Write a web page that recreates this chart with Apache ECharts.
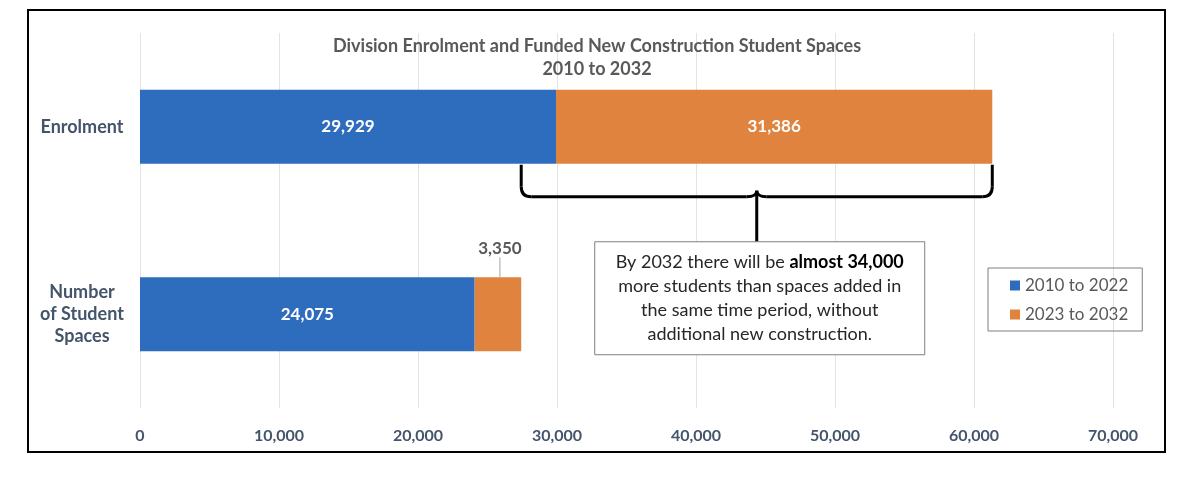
<!DOCTYPE html>
<html>
<head>
<meta charset="utf-8">
<script src="https://cdn.jsdelivr.net/npm/echarts@6/dist/echarts.min.js"></script>
<style>
  html, body { margin: 0; padding: 0; background: #fff; }
  #chart { width: 1200px; height: 490px; }
</style>
</head>
<body>
<div id="chart"></div>
<script>
const categories = ['Enrolment', 'Number\nof Student\nSpaces'];
const seriesNames = ['2010 to 2022', '2023 to 2032'];
const firstPeriod = [29929, 24075];
const secondPeriod = [31386, 3350];
const xTicks = [0, 10000, 20000, 30000, 40000, 50000, 60000, 70000];

const FONT = 'Lato, "Noto Sans", sans-serif';
const BLUE = '#2E6DBD';
const ORANGE = '#E0833F';
const AXIS_TEXT = '#44546A';

const chart = echarts.init(document.getElementById('chart'));

const option = {
  animation: false,
  textStyle: { fontFamily: FONT },
  title: {
    text: 'Division Enrolment and Funded New Construction Student Spaces\n2010 to 2032',
    left: 592,
    top: 30,
    textAlign: 'center',
    textStyle: { fontSize: 18, fontWeight: 'bold', color: '#595959', lineHeight: 23, fontFamily: FONT },
  },
  legend: {
    orient: 'vertical',
    left: 988,
    top: 268,
    padding: [9, 14, 8, 22],
    itemGap: 12,
    itemWidth: 10,
    itemHeight: 10,
    icon: 'rect',
    borderColor: '#7f7f7f',
    borderWidth: 1,
    textStyle: { fontSize: 17, color: '#595959', fontFamily: FONT },
    data: seriesNames,
  },
  grid: { left: 140, right: 87, top: 33, bottom: 82 },
  xAxis: {
    type: 'value',
    min: xTicks[0],
    max: xTicks[xTicks.length - 1],
    interval: 10000,
    axisLine: { show: false },
    axisTick: { show: false },
    splitLine: { lineStyle: { color: '#e3e3e3' } },
    axisLabel: {
      margin: 20,
      fontSize: 16,
      fontWeight: 'bold',
      color: AXIS_TEXT,
      fontFamily: FONT,
      formatter: (v) => v.toLocaleString('en-US'),
    },
  },
  yAxis: {
    type: 'category',
    inverse: true,
    data: categories,
    axisLine: { show: false },
    axisTick: { show: false },
    axisLabel: {
      align: 'center',
      margin: 58,
      fontSize: 18,
      lineHeight: 22,
      fontWeight: 'bold',
      color: AXIS_TEXT,
      fontFamily: FONT,
    },
  },
  series: [
    {
      name: seriesNames[0],
      type: 'bar',
      stack: 'total',
      barWidth: 74,
      itemStyle: { color: BLUE },
      label: {
        show: true,
        position: 'inside',
        color: '#fff',
        fontSize: 17,
        fontWeight: 'bold',
        fontFamily: FONT,
        formatter: (p) => p.value.toLocaleString('en-US'),
      },
      data: firstPeriod,
    },
    {
      name: seriesNames[1],
      type: 'bar',
      stack: 'total',
      barWidth: 74,
      itemStyle: { color: ORANGE },
      label: {
        show: true,
        position: 'inside',
        color: '#fff',
        fontSize: 17,
        fontWeight: 'bold',
        fontFamily: FONT,
        formatter: (p) => p.value.toLocaleString('en-US'),
      },
      labelLine: { show: true, lineStyle: { color: '#a6a6a6', width: 1 } },
      labelLayout: (params) => (params.dataIndex === 1 ? { dy: -16, dx: 2 } : {}),
      data: secondPeriod.map((v, i) => {
        if (i === 1) {
          return {
            value: v,
            label: { position: 'top', color: '#595959', distance: 4 },
          };
        }
        return v;
      }),
    },
  ],
};

chart.setOption(option);

// brace spans from the spaces total to the enrolment total
const enrolTotal = firstPeriod[0] + secondPeriod[0];
const spacesTotal = firstPeriod[1] + secondPeriod[1];
const x1 = chart.convertToPixel({ xAxisIndex: 0 }, spacesTotal);
const x2 = chart.convertToPixel({ xAxisIndex: 0 }, enrolTotal);
const yTop = chart.convertToPixel({ yAxisIndex: 0 }, categories[0]) + 38;
const yH = yTop + 32;
const xc = (x1 + x2) / 2;
const tip = yH + 45;
const r = 10;

const braceStyle = { stroke: '#000', lineWidth: 3, fill: 'none' };
const seg = (a, b, c, d) => ({ type: 'line', shape: { x1: a, y1: b, x2: c, y2: d }, style: braceStyle, silent: true });
const curve = (a, b, cx, cy, c, d) => ({
  type: 'bezierCurve',
  shape: { x1: a, y1: b, cpx1: cx, cpy1: cy, x2: c, y2: d },
  style: braceStyle,
  silent: true,
});

const boxW = 330;
const boxH = 113;

chart.setOption({
  graphic: [
    {
      type: 'rect',
      shape: { x: 28, y: 10, width: 1137, height: 442 },
      style: { fill: 'none', stroke: '#000', lineWidth: 2 },
      silent: true,
    },
    seg(x1, yTop, x1, yH - r),
    curve(x1, yH - r, x1, yH, x1 + r, yH),
    seg(x1 + r, yH, xc - r, yH),
    curve(xc - r, yH, xc, yH, xc, yH - 6),
    curve(xc, yH - 6, xc, yH, xc + r, yH),
    seg(xc + r, yH, x2 - r, yH),
    curve(x2 - r, yH, x2, yH, x2, yH - r),
    seg(x2, yH - r, x2, yTop),
    seg(xc, yH - 6, xc, tip),
    {
      type: 'rect',
      shape: { x: xc - boxW / 2 + 3, y: tip, width: boxW, height: boxH },
      style: { fill: '#fff', stroke: '#7f7f7f', lineWidth: 1 },
      silent: true,
    },
    {
      type: 'text',
      x: xc + 3,
      y: tip + boxH / 2,
      style: {
        text: 'By 2032 there will be {b|almost 34,000}\nmore students than spaces added in\nthe same time period, without\nadditional new construction.',
        align: 'center',
        verticalAlign: 'middle',
        fontSize: 18,
        lineHeight: 24,
        fill: '#262626',
        fontFamily: FONT,
        rich: { b: { fontWeight: 'bold', fontSize: 18, fontFamily: FONT, fill: '#000', lineHeight: 24 } },
      },
      silent: true,
    },
  ],
});
</script>
</body>
</html>
